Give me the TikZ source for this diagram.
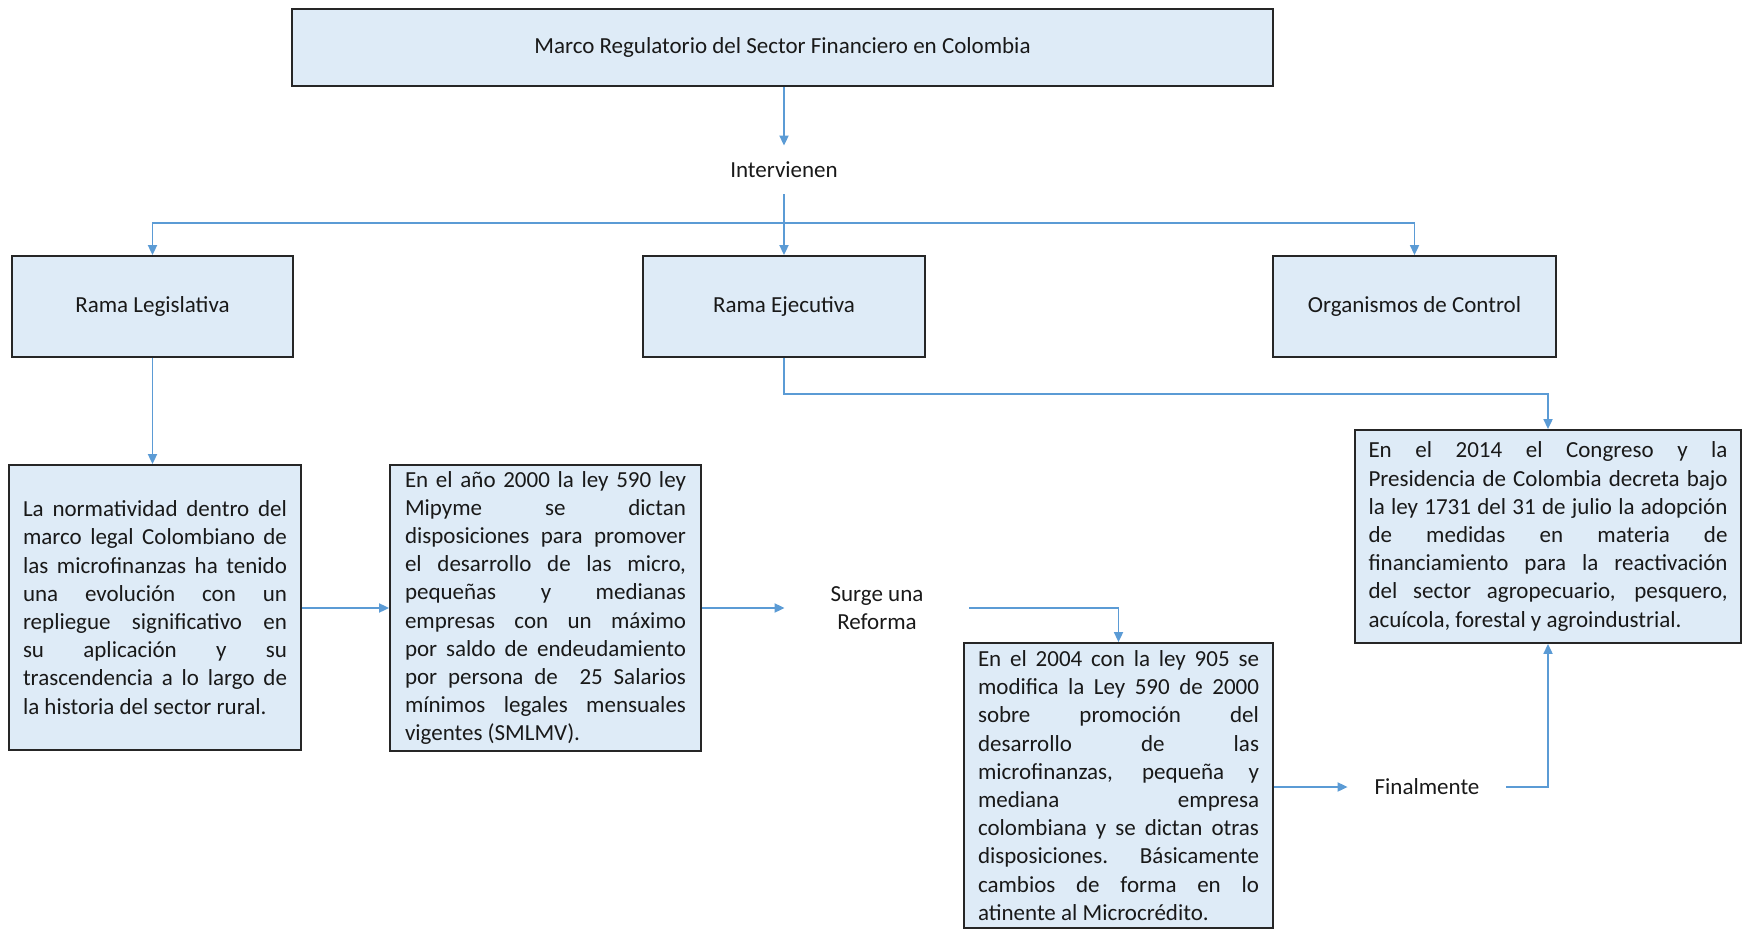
\documentclass[tikz,border=0pt]{standalone}
\usepackage{fontspec}
\setmainfont{Carlito}
\usetikzlibrary{arrows.meta,calc}
\definecolor{boxfill}{RGB}{222,235,247}
\definecolor{arrowblue}{RGB}{91,155,213}
\definecolor{txt}{RGB}{25,25,25}
\hyphenpenalty=10000
\exhyphenpenalty=10000
\hbadness=10000
\hfuzz=4pt
\begin{document}
\begin{tikzpicture}[x=0.5pt,y=-0.5pt,
  txtfont/.style={font={\fontsize{11.5}{14.1}\selectfont}, text=txt},
  box/.style={draw=black!85, line width=0.9pt, fill=boxfill, inner sep=0pt, txtfont},
  para/.style={box, align=justify},
  label/.style={inner sep=0pt, txtfont, align=center},
  conn/.style={draw=arrowblue, line width=0.9pt},
  arr/.style={conn, -{Triangle[length=5pt,width=4.5pt]}},
  arr2/.style={conn, {Triangle[length=5pt,width=4.5pt]}-{Triangle[length=5pt,width=4.5pt]}}
]
\useasboundingbox (0,0) rectangle (1743,930);

\node[box, minimum width=490.5pt, minimum height=38.5pt] (top) at (782.5,47.5) {Marco Regulatorio del Sector Financiero en Colombia};
\node[label, minimum height=24pt, minimum width=60pt] (inter) at (784,170) {Intervienen};

\node[box, minimum width=140.5pt, minimum height=50.5pt] (leg) at (152.5,306.5) {Rama Legislativa};
\node[box, minimum width=141pt, minimum height=50.5pt] (eje) at (784,306.5) {Rama Ejecutiva};
\node[box, minimum width=141.5pt, minimum height=50.5pt] (org) at (1414.5,306.5) {Organismos de Control};

\node[para, minimum width=146pt, minimum height=142.5pt, text width=132pt] (b1) at (155,607.5) {La normatividad dentro del\linebreak marco legal Colombiano de\linebreak las microfinanzas ha tenido\linebreak una evolución con un\linebreak repliegue significativo en\linebreak su aplicación y su\linebreak trascendencia a lo largo de\linebreak la historia del sector rural.};

\node[para, minimum width=155.5pt, minimum height=143pt, text width=140.5pt] (b2) at (545.5,608) {En el año 2000 la ley 590 ley\linebreak Mipyme se dictan\linebreak disposiciones para promover\linebreak el desarrollo de las micro,\linebreak pequeñas y medianas\linebreak empresas con un máximo\linebreak por saldo de endeudamiento\linebreak por persona de \ 25 Salarios\linebreak mínimos legales mensuales\linebreak vigentes (SMLMV).};

\node[label, minimum width=92pt, minimum height=20pt] (surge) at (877,608) {Surge una\\Reforma};

\node[para, minimum width=154.5pt, minimum height=142.5pt, text width=140.5pt] (b3) at (1118.5,785.5) {En el 2004 con la ley 905 se\linebreak modifica la Ley 590 de 2000\linebreak sobre promoción del\linebreak desarrollo de las\linebreak microfinanzas, pequeña y\linebreak mediana empresa\linebreak colombiana y se dictan otras\linebreak disposiciones. Básicamente\linebreak cambios de forma en lo\linebreak atinente al Microcrédito.};

\node[label, minimum width=79pt, minimum height=14pt] (final) at (1427,787) {Finalmente};

\node[para, minimum width=193pt, minimum height=106.5pt, text width=179.5pt] (b4) at (1548,536.5) {En el 2014 el Congreso y la\linebreak Presidencia de Colombia decreta bajo\linebreak la ley 1731 del 31 de julio la adopción\linebreak de medidas en materia de\linebreak financiamiento para la reactivación\linebreak del sector agropecuario, pesquero,\linebreak acuícola, forestal y agroindustrial.};

\coordinate (bus) at (784,223);

\draw[arr] (top.south -| inter.north) -- (inter.north);
\draw[arr] (inter.south) -- (eje.north);
\draw[arr2] (leg.north) -- (leg.north |- bus) -- (org.north |- bus) -- (org.north);
\draw[arr] (leg.south) -- (leg.south |- b1.north);
\draw[arr] (b1.east |- b2.west) -- (b2.west);
\draw[arr] (b2.east) -- (surge.west);
\draw[arr] (surge.east) -| (b3.north);
\draw[arr] (b3.east |- final.west) -- (final.west);
\draw[arr] (final.east) -| (b4.south);
\draw[arr] (eje.south) -- ++(0,36) -| (b4.north);
\end{tikzpicture}
\end{document}
